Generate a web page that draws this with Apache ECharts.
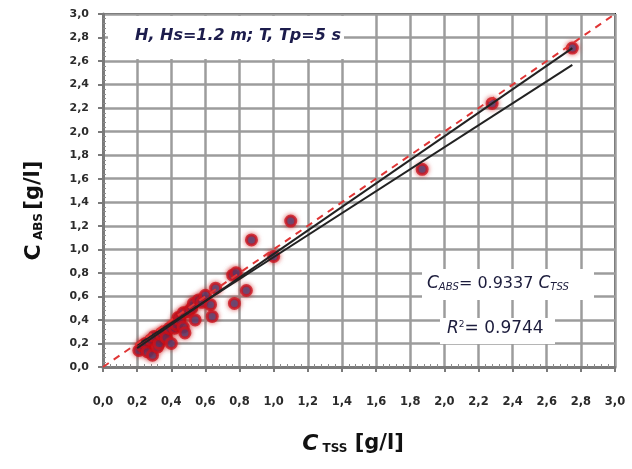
<!DOCTYPE html>
<html lang="en">

<head>
    <meta charset="UTF-8">
    <title>C_ABS vs C_TSS</title>
    <style>
        html, body { margin: 0; padding: 0; background: #fff; }
        #chart { width: 632px; height: 469px; }
    </style>
</head>

<body>
    <div id="chart"></div>
    <script src="https://cdn.jsdelivr.net/npm/echarts@6/dist/echarts.min.js"></script>
    <script>
        // measured points (C_TSS, C_ABS) in g/l
        const tss = [0.21, 0.23, 0.25, 0.26, 0.28, 0.29, 0.30, 0.32, 0.33, 0.34, 0.36, 0.37, 0.39, 0.40, 0.42, 0.43,
            0.44, 0.45, 0.47, 0.47, 0.48, 0.50, 0.52, 0.53, 0.54, 0.56, 0.58, 0.60, 0.63, 0.64, 0.66, 0.77,
            0.76, 0.78, 0.84, 0.87, 1.00, 1.10, 1.87, 2.28, 2.75]
        const abs = [0.14, 0.18, 0.20, 0.13, 0.23, 0.10, 0.26, 0.17, 0.20, 0.28, 0.30, 0.25, 0.33, 0.20, 0.33, 0.36,
            0.42, 0.40, 0.46, 0.34, 0.29, 0.47, 0.50, 0.54, 0.40, 0.57, 0.55, 0.61, 0.53, 0.43, 0.67, 0.54,
            0.78, 0.80, 0.65, 1.08, 0.94, 1.24, 1.68, 2.24, 2.71]

        // regression line C_ABS = 0.9337 C_TSS and the second fit line
        const fitX = [0.2, 2.75]
        const fitY = [0.187, 2.568]
        const fit2Y = [0.16, 2.71]
        // 1:1 line
        const oneX = [0, 3]
        const oneY = [0, 3]

        const axisTicks = { min: 0, max: 3, interval: 0.2 }

        const chart = echarts.init(document.getElementById('chart'))

        const fmt = v => v.toFixed(1).replace('.', ',')
        const labelStyle = {
            fontFamily: 'DejaVu Sans',
            fontSize: 11,
            fontWeight: 'bold',
            color: '#2b2b2b'
        }
        const nameRich = {
            c: { fontFamily: 'DejaVu Sans', fontSize: 22, fontWeight: 'bold', color: '#111' },
            ci: { fontFamily: 'DejaVu Sans', fontSize: 22, fontWeight: 'bold', fontStyle: 'italic', color: '#111' },
            s: { fontFamily: 'DejaVu Sans', fontSize: 12, fontWeight: 'bold', color: '#111', padding: [10, 0, 0, 0] },
            u: { fontFamily: 'DejaVu Sans', fontSize: 21, fontWeight: 'bold', color: '#111' }
        }
        const pairs = (xs, ys) => xs.map((x, i) => [x, ys[i]])

        const baseAxis = {
            type: 'value',
            min: axisTicks.min,
            max: axisTicks.max,
            interval: axisTicks.interval,
            axisLine: { show: true, lineStyle: { color: '#7a7a7a', width: 3 } },
            axisTick: { show: true, length: 5, lineStyle: { color: '#7a7a7a', width: 2 } },
            splitLine: { show: true, lineStyle: { color: '#9c9c9c', width: 2.5 } },
            axisLabel: Object.assign({ formatter: fmt }, labelStyle)
        }
        // overlay axes only for inner minor ticks
        const minorAxis = {
            type: 'value',
            min: axisTicks.min,
            max: axisTicks.max,
            interval: axisTicks.interval,
            axisLine: { show: false },
            axisTick: { show: false, inside: true },
            minorTick: { show: true, splitNumber: 5, length: 3, lineStyle: { color: '#8c8c8c', width: 1 } },
            splitLine: { show: false },
            axisLabel: { show: false }
        }

        const option = {
            backgroundColor: '#fff',
            animation: false,
            grid: {
                left: 103, right: 17, top: 14, bottom: 102,
                show: true, borderColor: '#222', borderWidth: 2
            },
            xAxis: [Object.assign({}, baseAxis, {
                name: '{ci|C}{s| TSS}{u| [g/l]}',
                nameLocation: 'middle',
                nameGap: 66,
                nameTextStyle: { rich: nameRich, padding: [0, 12, 0, 0] },
                axisLabel: Object.assign({ formatter: fmt, margin: 29 }, labelStyle, { fontSize: 11.5 })
            }), Object.assign({}, minorAxis, { position: 'bottom' })],
            yAxis: [Object.assign({}, baseAxis, {
                name: '{c|C}{s| ABS} {u|[g/l]}',
                nameLocation: 'middle',
                nameGap: 58,
                nameTextStyle: { rich: nameRich, padding: [0, 40, 0, 0] },
                axisLabel: Object.assign({ formatter: fmt, margin: 14 }, labelStyle)
            }), Object.assign({}, minorAxis, { position: 'left' })],
            graphic: [{
                type: 'rect',
                shape: { x: 108, y: 16, width: 236, height: 43 },
                style: { fill: '#fff' },
                z: 5
            }, {
                type: 'text',
                left: 135, top: 28,
                style: {
                    text: 'H, Hs=1.2 m; T, Tp=5 s',
                    font: 'italic bold 16px "DejaVu Sans"',
                    fill: '#1c1c4c'
                },
                z: 6
            }, {
                type: 'rect',
                shape: { x: 422, y: 269, width: 172, height: 31 },
                style: { fill: '#fff' },
                z: 5
            }, {
                type: 'text',
                left: 427, top: 275,
                style: {
                    text: '{i|C}{s|ABS}{n|= 0.9337 }{i|C}{s|TSS}',
                    rich: {
                        i: { fontFamily: 'DejaVu Sans', fontStyle: 'italic', fontSize: 17, fill: '#1c1c3c' },
                        s: { fontFamily: 'DejaVu Sans', fontStyle: 'italic', fontSize: 10, fill: '#1c1c3c', padding: [8, 0, 0, 0] },
                        n: { fontFamily: 'DejaVu Sans', fontSize: 16, fill: '#1c1c3c' }
                    }
                },
                z: 6
            }, {
                type: 'rect',
                shape: { x: 440, y: 318, width: 115, height: 26 },
                style: { fill: '#fff' },
                z: 5
            }, {
                type: 'text',
                left: 447, top: 320,
                style: {
                    text: '{i|R}{p|2}{n|= 0.9744}',
                    rich: {
                        i: { fontFamily: 'DejaVu Sans', fontStyle: 'italic', fontSize: 17, fill: '#1c1c3c' },
                        p: { fontFamily: 'DejaVu Sans', fontSize: 9, fill: '#1c1c3c', padding: [0, 0, 8, 0] },
                        n: { fontFamily: 'DejaVu Sans', fontSize: 17, fill: '#1c1c3c' }
                    }
                },
                z: 6
            }],
            series: [{
                type: 'scatter',
                data: pairs(tss, abs),
                symbolSize: 10,
                itemStyle: {
                    color: '#2e4d8f',
                    borderColor: '#cc1520',
                    borderWidth: 3,
                    shadowColor: 'rgba(200,0,0,0.7)',
                    shadowBlur: 5
                },
                z: 3
            }, {
                type: 'line',
                data: pairs(fitX, fitY),
                symbol: 'none',
                lineStyle: { color: '#222', width: 2 },
                z: 4
            }, {
                type: 'line',
                data: pairs(fitX, fit2Y),
                symbol: 'none',
                lineStyle: { color: '#222', width: 2 },
                z: 4
            }, {
                type: 'line',
                data: pairs(oneX, oneY),
                symbol: 'none',
                lineStyle: { color: '#e03535', width: 2, type: [7, 6] },
                z: 4
            }]
        }

        chart.setOption(option)
    </script>
</body>

</html>
